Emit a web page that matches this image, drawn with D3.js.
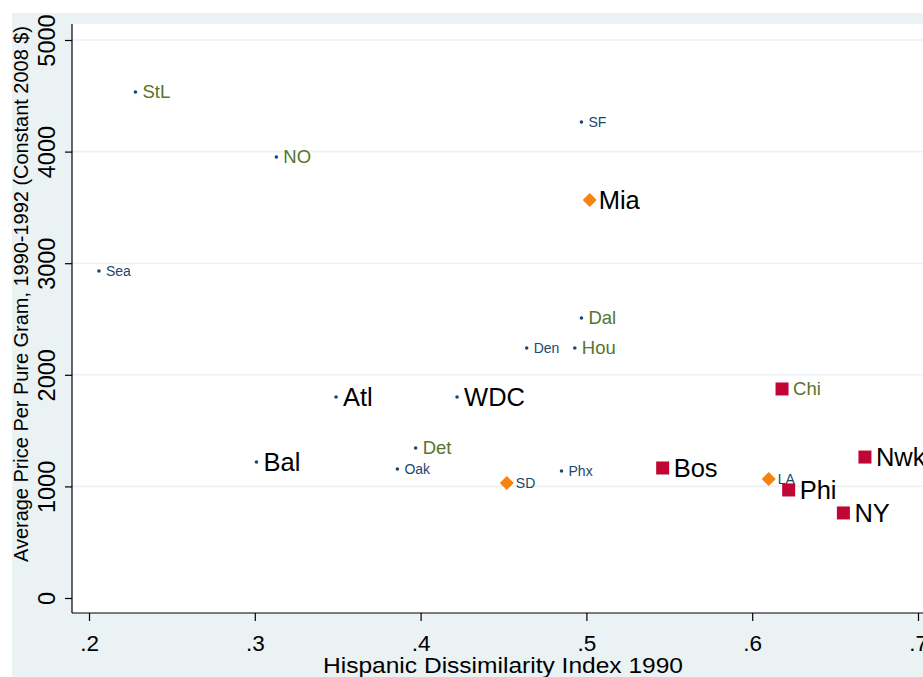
<!DOCTYPE html>
<html>
<head>
<meta charset="utf-8">
<script src="https://cdn.jsdelivr.net/npm/d3@7"></script>
<style>
  body { margin: 0; background: #fff; }
  svg { display: block; font-family: "Liberation Sans", Arial, sans-serif; }
</style>
</head>
<body>
<svg id="vis" width="923" height="677"></svg>
<script>
// city data
var cities = ["StL","NO","Sea","SF","Mia","Dal","Den","Hou","Atl","WDC","Bal","Det","Oak","SD","Phx","Bos","Chi","LA","Phi","NY","Nwk"]
var dissim = [0.228,0.313,0.206,0.497,0.502,0.497,0.464,0.493,0.349,0.422,0.301,0.397,0.386,0.452,0.485,0.546,0.618,0.610,0.622,0.655,0.668]
var price  = [4534,3952,2930,4265,3566,2509,2240,2240,1801,1801,1219,1344,1156,1030,1138,1165,1873,1066,968,762,1263]
var marker = ["dot","dot","dot","dot","diamond","dot","dot","dot","dot","dot","dot","dot","dot","diamond","dot","square","square","diamond","square","square","square"]
var labelStyle = ["mid","mid","small","small","big","mid","small","mid","big","big","big","mid","small","small","small","big","mid","small","big","big","big"]

var xTicks = [0.2,0.3,0.4,0.5,0.6,0.7]
var xTickLabels = [".2",".3",".4",".5",".6",".7"]
var yTicks = [0,1000,2000,3000,4000,5000]
var xTitle = "Hispanic Dissimilarity Index 1990"
var yTitle = "Average Price Per Pure Gram, 1990-1992 (Constant 2008 $)"

var svg = d3.select("#vis")
var width = 923, height = 677
var axisX = 72, axisY = 613, plotTop = 24

var x = d3.scaleLinear().domain([0.2, 0.7]).range([89, 918])
var y = d3.scaleLinear().domain([0, 5000]).range([598, 40])

var labelFont = {big: 25.5, mid: 18.5, small: 14}
var labelColor = {big: "#000000", mid: "#55752f", small: "#1a476f"}

// outer background
svg.append("rect").attr("x", 12).attr("y", 13).attr("width", width).attr("height", height)
    .attr("fill", "#eaf2f3")
// plot region
svg.append("rect").attr("x", axisX).attr("y", plotTop).attr("width", width - axisX).attr("height", axisY - plotTop)
    .attr("fill", "#ffffff")

// gridlines
svg.append("g").selectAll("line").data(yTicks.filter(d => d > 0)).join("line")
    .attr("x1", axisX).attr("x2", width)
    .attr("y1", d => y(d)).attr("y2", d => y(d))
    .style("stroke", "#eaf2f3").style("stroke-width", 1.6)

// y axis
var yAxis = svg.append("g").attr("transform", "translate(" + axisX + ",0)")
    .call(d3.axisLeft(y).tickValues(yTicks).tickSize(7).tickFormat(d3.format("d")))
yAxis.select(".domain").attr("d", "M0," + plotTop + "V" + axisY).style("stroke", "#000").style("stroke-width", 1.2)
yAxis.selectAll(".tick line").style("stroke", "#000").style("stroke-width", 1.2)
yAxis.selectAll(".tick text")
    .attr("x", null).attr("dy", null)
    .attr("text-anchor", "middle")
    .attr("transform", "translate(-17,0) rotate(-90)")
    .style("font-size", "23.5px").style("font-family", "Liberation Sans, Arial, sans-serif").attr("fill", "#000")

// x axis
var xAxis = svg.append("g").attr("transform", "translate(0," + axisY + ")")
    .call(d3.axisBottom(x).tickValues(xTicks).tickSize(8).tickFormat((d, i) => xTickLabels[i]))
xAxis.select(".domain").attr("d", "M" + axisX + ",0H" + width).style("stroke", "#000").style("stroke-width", 1.2)
xAxis.selectAll(".tick line").style("stroke", "#000").style("stroke-width", 1.2)
xAxis.selectAll(".tick text")
    .attr("y", 38).attr("dy", null)
    .style("font-size", "22.5px").style("font-family", "Liberation Sans, Arial, sans-serif").attr("fill", "#000")

// axis titles
svg.append("text").attr("x", 503).attr("y", 673).attr("text-anchor", "middle")
    .attr("textLength", 360).attr("lengthAdjust", "spacingAndGlyphs")
    .style("font-size", "22px").attr("fill", "#000").text(xTitle)
svg.append("text").attr("transform", "translate(28,294) rotate(-90)").attr("text-anchor", "middle")
    .attr("textLength", 536).attr("lengthAdjust", "spacingAndGlyphs")
    .style("font-size", "20px").attr("fill", "#000").text(yTitle)

// points
var pts = cities.map((c, i) => ({name: c, x: dissim[i], y: price[i], m: marker[i], s: labelStyle[i]}))
var g = svg.append("g")
pts.forEach(function(d) {
    var px = x(d.x), py = y(d.y), off
    if (d.m == "dot") {
        g.append("circle").attr("cx", px).attr("cy", py).attr("r", 1.8).attr("fill", "#1a476f")
        off = 7
    } else if (d.m == "diamond") {
        g.append("path").attr("d", "M" + px + "," + (py - 7) + "L" + (px + 7) + "," + py + "L" + px + "," + (py + 7) + "L" + (px - 7) + "," + py + "Z")
            .attr("fill", "#f7820e")
        off = 9
    } else {
        g.append("rect").attr("x", px - 6.5).attr("y", py - 6.5).attr("width", 13).attr("height", 13)
            .attr("fill", "#c10534")
        off = 11
    }
    g.append("text").attr("x", px + off).attr("y", py).attr("dy", "0.35em")
        .style("font-size", labelFont[d.s] + "px").attr("fill", labelColor[d.s]).text(d.name)
})
</script>
</body>
</html>
